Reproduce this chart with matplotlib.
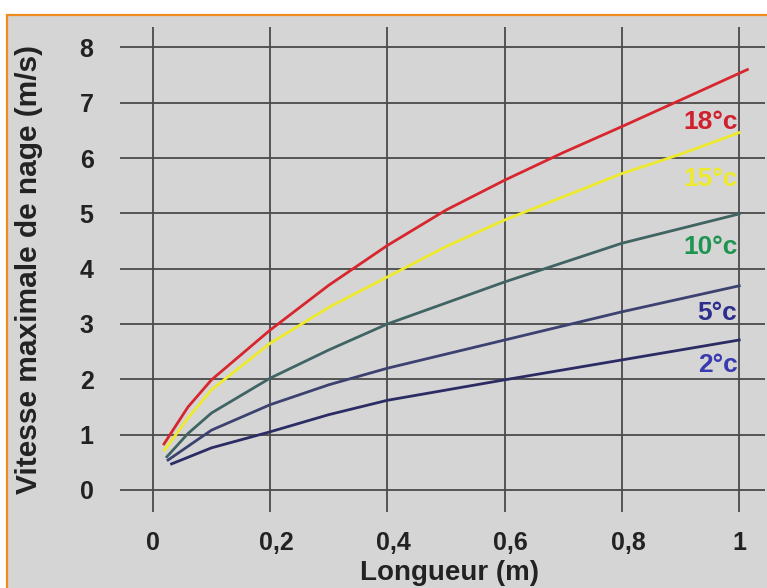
import matplotlib
matplotlib.use("Agg")
import matplotlib.pyplot as plt
from matplotlib.patches import Rectangle
from matplotlib.transforms import ScaledTranslation

# Data
x18 = [0.019, 0.06, 0.1, 0.2, 0.3, 0.4, 0.5, 0.6, 0.7, 0.8, 0.9, 1.014]
y18 = [0.83, 1.5, 1.99, 2.89, 3.7, 4.42, 5.06, 5.6, 6.1, 6.57, 7.05, 7.6]
x15 = [0.02, 0.06, 0.1, 0.2, 0.3, 0.4, 0.5, 0.6, 0.7, 0.8, 0.9, 1.0]
y15 = [0.72, 1.3, 1.81, 2.65, 3.3, 3.85, 4.4, 4.88, 5.3, 5.72, 6.07, 6.46]
x10 = [0.024, 0.06, 0.1, 0.2, 0.3, 0.4, 0.6, 0.8, 1.0]
y10 = [0.6, 1.02, 1.39, 2.02, 2.53, 3.0, 3.76, 4.46, 4.99]
x5 = [0.026, 0.1, 0.2, 0.3, 0.4, 0.6, 0.8, 1.0]
y5 = [0.54, 1.08, 1.54, 1.9, 2.2, 2.71, 3.22, 3.69]
x2 = [0.032, 0.1, 0.2, 0.3, 0.4, 0.6, 0.8, 1.0]
y2 = [0.47, 0.76, 1.05, 1.36, 1.62, 1.99, 2.35, 2.71]

series_labels = ["18°c", "15°c", "10°c", "5°c", "2°c"]
label_y = [6.65, 5.62, 4.4, 3.2, 2.26]

xticks = [0, 0.2, 0.4, 0.6, 0.8, 1.0]
xtick_labels = ["0", "0,2", "0,4", "0,6", "0,8", "1"]
yticks = [0, 1, 2, 3, 4, 5, 6, 7, 8]
ytick_labels = ["0", "1", "2", "3", "4", "5", "6", "7", "8"]

line_colors = ["#d8262e", "#eeea2c", "#3f6462", "#3c4170", "#2c2c64"]
text_colors = ["#d0202e", "#eeea2c", "#1f9450", "#2c2f8c", "#3a3ab0"]

plt.rcParams['font.family'] = ['Liberation Sans', 'DejaVu Sans']

fig = plt.figure(figsize=(7.67, 5.88), dpi=100)
fig.patch.set_facecolor("white")
bg = Rectangle((7 / 767, -0.05), 1.1, 1 - 15 / 588 + 0.05, transform=fig.transFigure,
               facecolor="#d5d5d5", edgecolor="#f08c1e", linewidth=1.6, zorder=-10)
fig.patches.append(bg)

ax = fig.add_axes([120 / 767, 1 - 512 / 588, (765 - 120) / 767, (512 - 27) / 588])
ax.set_zorder(1)
ax.set_facecolor("none")
ax.set_xlim(-0.056, 1.044)
ax.set_ylim(-0.40, 8.37)
for s in ax.spines.values():
    s.set_visible(False)

ax.set_xticks(xticks)
ax.set_yticks(yticks)
ax.set_xticklabels(xtick_labels, fontsize=18, fontweight="bold", color="#222222")
ax.set_yticklabels(ytick_labels, fontsize=18, fontweight="bold", color="#222222")
ax.tick_params(length=0)
ax.tick_params(axis='y', pad=19)
ax.tick_params(axis='x', pad=14)
for lbl, txt in zip(ax.get_xticklabels(), xtick_labels):
    if "," in txt:
        lbl.set_transform(lbl.get_transform() + ScaledTranslation(6 / 100, 0, fig.dpi_scale_trans))
ax.grid(True, color="#4a4a4a", linewidth=1.3)
ax.set_axisbelow(True)

xs = [x18, x15, x10, x5, x2]
ys = [y18, y15, y10, y5, y2]
for xv, yv, c in zip(xs, ys, line_colors):
    ax.plot(xv, yv, color=c, linewidth=2.0, zorder=3)

for lab, ly, tc in zip(series_labels, label_y, text_colors):
    ax.text(0.997, ly, lab, color=tc, fontsize=19, fontweight="bold",
            ha="right", va="center", zorder=4)

fig.text(29 / 767, 1 - 269 / 588, "Vitesse maximale de nage (m/s)", rotation=90,
         fontsize=21.5, fontweight="bold", color="#222222", ha="center", va="center")
fig.text(449 / 767, 1 - 573 / 588, "Longueur (m)", fontsize=20, fontweight="bold",
         color="#222222", ha="center", va="center")

fig.savefig("out.png", dpi=100)
